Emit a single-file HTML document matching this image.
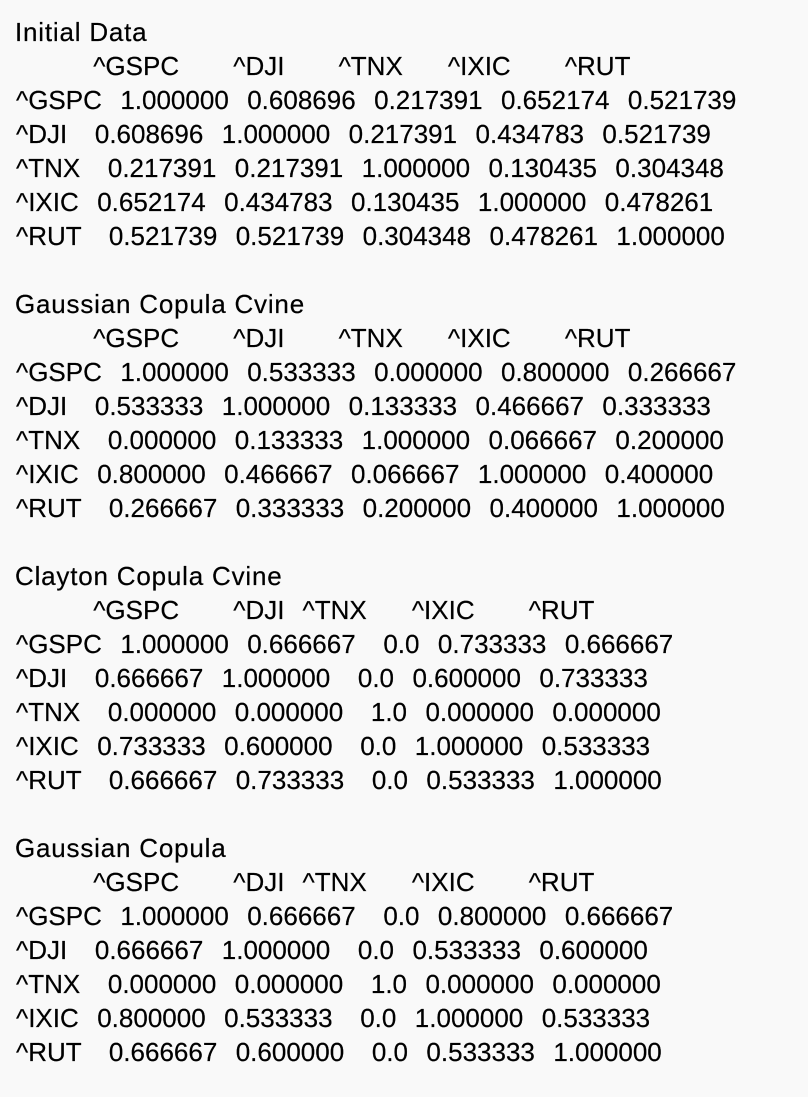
<!DOCTYPE html>
<html><head><meta charset="utf-8">
<style>
html,body{margin:0;padding:0;background:#f9f9f9;}
#page{position:relative;width:808px;height:1097px;overflow:hidden;background:#f9f9f9;font-family:"Liberation Sans",sans-serif;color:#000;}
.ln{position:absolute;left:16px;white-space:pre;font-size:26px;line-height:34px;height:34px;word-spacing:2px;-webkit-text-stroke:0.2px #000;}
.hdr{left:3px;word-spacing:1.8px;}
.ttl{letter-spacing:0.8px;left:15px;word-spacing:0;}
</style></head>
<body>
<div id="page"></div>
<script>
const titles=["Initial Data","Gaussian Copula Cvine","Clayton Copula Cvine","Gaussian Copula"];
const headers=[
"          ^GSPC      ^DJI      ^TNX     ^IXIC      ^RUT",
"          ^GSPC      ^DJI      ^TNX     ^IXIC      ^RUT",
"          ^GSPC      ^DJI  ^TNX     ^IXIC      ^RUT",
"          ^GSPC      ^DJI  ^TNX     ^IXIC      ^RUT"];
const rows=[
["^GSPC  1.000000  0.608696  0.217391  0.652174  0.521739",
 "^DJI   0.608696  1.000000  0.217391  0.434783  0.521739",
 "^TNX   0.217391  0.217391  1.000000  0.130435  0.304348",
 "^IXIC  0.652174  0.434783  0.130435  1.000000  0.478261",
 "^RUT   0.521739  0.521739  0.304348  0.478261  1.000000"],
["^GSPC  1.000000  0.533333  0.000000  0.800000  0.266667",
 "^DJI   0.533333  1.000000  0.133333  0.466667  0.333333",
 "^TNX   0.000000  0.133333  1.000000  0.066667  0.200000",
 "^IXIC  0.800000  0.466667  0.066667  1.000000  0.400000",
 "^RUT   0.266667  0.333333  0.200000  0.400000  1.000000"],
["^GSPC  1.000000  0.666667   0.0  0.733333  0.666667",
 "^DJI   0.666667  1.000000   0.0  0.600000  0.733333",
 "^TNX   0.000000  0.000000   1.0  0.000000  0.000000",
 "^IXIC  0.733333  0.600000   0.0  1.000000  0.533333",
 "^RUT   0.666667  0.733333   0.0  0.533333  1.000000"],
["^GSPC  1.000000  0.666667   0.0  0.800000  0.666667",
 "^DJI   0.666667  1.000000   0.0  0.533333  0.600000",
 "^TNX   0.000000  0.000000   1.0  0.000000  0.000000",
 "^IXIC  0.800000  0.533333   0.0  1.000000  0.533333",
 "^RUT   0.666667  0.600000   0.0  0.533333  1.000000"]];
const page=document.getElementById('page');
function add(txt,line,cls){
  const s=document.createElement('div');
  s.className='ln '+(cls||'');
  s.textContent=txt;
  s.style.top=(32+34*line-17)+'px';
  page.appendChild(s);
  return s;
}
titles.forEach((t,si)=>{
  const base=si*8;
  const a=add(t,base,'ttl');
  
  
  const h=add(headers[si],base+1,'hdr');
  
  
  rows[si].forEach((r,ri)=>{
    const e=add(r,base+2+ri);
    
    
  });
});
</script>
</body></html>
